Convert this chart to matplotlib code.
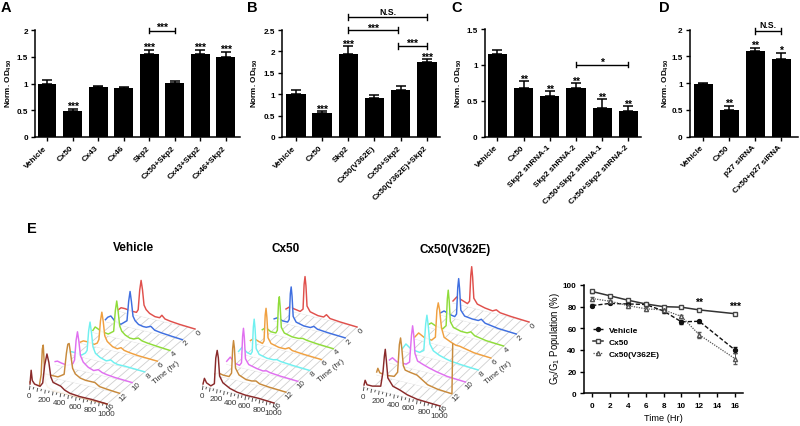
import matplotlib
matplotlib.use('Agg')
import numpy as np
import matplotlib.pyplot as plt
from matplotlib.lines import Line2D
from matplotlib.transforms import ScaledTranslation

plt.rcParams['font.family'] = ['Liberation Sans', 'DejaVu Sans']
plt.rcParams['font.weight'] = 'bold'
plt.rcParams['mathtext.default'] = 'regular'

W, H = 800, 427

# bar panels
a_labels = ['Vehicle', 'Cx50', 'Cx43', 'Cx46', 'Skp2', 'Cx50+Skp2', 'Cx43+Skp2', 'Cx46+Skp2']
a_vals = [1.0, 0.48, 0.93, 0.92, 1.55, 1.01, 1.55, 1.5]
a_errs = [0.06, 0.05, 0.02, 0.015, 0.07, 0.04, 0.08, 0.09]
a_stars = ['', '***', '', '', '***', '', '***', '***']

b_labels = ['Vehicle', 'Cx50', 'Skp2', 'Cx50(V362E)', 'Cx50+Skp2', 'Cx50(V362E)+Skp2']
b_vals = [1.0, 0.55, 1.95, 0.92, 1.1, 1.76]
b_errs = [0.09, 0.05, 0.17, 0.05, 0.1, 0.07]
b_stars = ['', '***', '***', '', '', '***']

c_labels = ['Vehicle', 'Cx50', 'Skp2 shRNA-1', 'Skp2 shRNA-2', 'Cx50+Skp2 shRNA-1', 'Cx50+Skp2 shRNA-2']
c_vals = [1.15, 0.68, 0.56, 0.68, 0.40, 0.35]
c_errs = [0.06, 0.09, 0.07, 0.06, 0.12, 0.07]
c_stars = ['', '**', '**', '**', '**', '**']

d_labels = ['Vehicle', 'Cx50', 'p27 siRNA', 'Cx50+p27 siRNA']
d_vals = [0.99, 0.5, 1.6, 1.45]
d_errs = [0.005, 0.07, 0.06, 0.11]
d_stars = ['', '**', '**', '*']

# time course
hours = [0, 2, 4, 6, 8, 10, 12, 16]
veh_pop = [81, 83, 82.5, 82, 76, 66, 66.5, 40]
veh_err = [1, 1, 1, 1, 2, 2, 1.5, 3]
cx_pop = [94, 90, 86, 82.5, 80, 79.5, 77, 73.5]
cx_err = [1, 1, 1, 1, 1, 1, 1, 1]
mut_pop = [87.5, 85, 81, 78, 77, 71, 54, 32]
mut_err = [1, 1, 1, 1.5, 1.5, 1.5, 3, 5]

# histogram traces, back to front: channel, height
time_labels = ['0', '2', '4', '6', '8', '10', '12', '16']
veh_ch = [
    [0, 40, 90, 180, 240, 262, 282, 300, 318, 338, 365, 410, 480, 540, 570, 610, 680, 800, 1000],
    [0, 30, 70, 120, 200, 280, 302, 320, 338, 358, 385, 430, 490, 530, 590, 640, 720, 850, 1000],
    [0, 30, 60, 110, 200, 270, 292, 310, 328, 348, 375, 420, 480, 530, 590, 640, 720, 850, 1000],
    [0, 40, 100, 180, 220, 242, 262, 280, 298, 318, 350, 420, 480, 530, 570, 640, 750, 1000],
    [0, 40, 100, 180, 230, 252, 272, 290, 308, 328, 360, 420, 500, 560, 600, 650, 750, 1000],
    [0, 30, 80, 160, 230, 252, 272, 290, 308, 328, 365, 430, 500, 560, 610, 670, 780, 1000],
    [0, 40, 100, 200, 280, 310, 328, 345, 368, 390, 425, 490, 560, 620, 680, 740, 850, 1000],
    [0, 40, 80, 120, 145, 160, 172, 182, 195, 230, 300, 1000],
    [0, 15, 30, 60, 130, 165, 190, 220, 245, 270, 300, 350, 400, 450, 520, 650, 800, 1000],
]
veh_h = [
    [1, 4, 4, 3, 3, 6, 26, 36, 27, 12, 8, 5, 3, 3, 6, 3, 2, 1, 0],
    [2, 5, 7, 3, 1, 6, 26, 36, 26, 12, 8, 5, 4, 4, 6, 3, 2, 1, 0],
    [2, 6, 5, 3, 2, 6, 27, 37, 27, 13, 8, 5, 3, 3, 5, 3, 2, 1, 0],
    [1, 3, 3, 2, 4, 8, 27, 36, 27, 13, 8, 4, 3, 5, 3, 2, 1, 0],
    [1, 3, 3, 2, 5, 8, 28, 37, 27, 13, 7, 4, 2, 4, 2, 1, 1, 0],
    [3, 4, 3, 2, 5, 9, 29, 38, 29, 15, 9, 5, 3, 5, 3, 2, 1, 0],
    [1, 2, 2, 2, 6, 28, 37, 38, 26, 14, 9, 6, 5, 5, 5, 2, 1, 0],
    [4, 3, 2, 2, 14, 40, 44, 30, 8, 3, 1, 0],
    [2, 16, 6, 3, 2, 6, 24, 36, 28, 14, 9, 8, 7, 4, 2, 1, 1, 0],
]
cx_ch = [
    [0, 50, 120, 200, 240, 255, 268, 281, 296, 340, 450, 530, 570, 620, 760, 1000],
    [0, 50, 120, 190, 212, 228, 240, 252, 268, 310, 420, 510, 560, 610, 760, 1000],
    [0, 50, 120, 190, 212, 228, 240, 252, 268, 310, 420, 510, 570, 630, 770, 1000],
    [0, 50, 120, 170, 192, 208, 220, 232, 248, 290, 400, 490, 540, 590, 750, 1000],
    [0, 50, 120, 170, 192, 208, 220, 232, 248, 290, 400, 490, 540, 590, 750, 1000],
    [0, 50, 120, 180, 208, 224, 236, 248, 264, 310, 420, 510, 560, 610, 750, 1000],
    [0, 50, 120, 200, 235, 251, 263, 275, 291, 340, 440, 520, 580, 630, 760, 1000],
    [0, 20, 50, 110, 160, 180, 200, 216, 234, 280, 380, 480, 600, 780, 1000],
]
cx_h = [
    [1, 4, 3, 2, 5, 30, 38, 29, 9, 4, 2, 2, 5, 2, 1, 0],
    [2, 4, 2, 2, 5, 31, 38, 29, 9, 4, 2, 2, 4, 2, 1, 0],
    [2, 5, 2, 2, 5, 32, 39, 29, 9, 4, 2, 2, 3, 2, 1, 0],
    [2, 5, 3, 2, 5, 31, 38, 29, 9, 4, 2, 2, 4, 2, 1, 0],
    [2, 7, 3, 2, 5, 30, 38, 29, 9, 4, 2, 2, 3, 2, 1, 0],
    [3, 8, 3, 2, 5, 32, 40, 31, 10, 5, 3, 2, 3, 2, 1, 0],
    [1, 3, 2, 2, 6, 31, 39, 32, 12, 6, 3, 3, 4, 2, 1, 0],
    [2, 8, 4, 2, 5, 31, 39, 32, 14, 8, 4, 2, 1, 1, 0],
]
mut_ch = [
    [0, 50, 120, 190, 218, 234, 246, 258, 274, 320, 420, 520, 570, 620, 760, 1000],
    [0, 50, 120, 190, 214, 230, 242, 254, 270, 320, 420, 500, 540, 590, 760, 1000],
    [0, 50, 110, 200, 244, 260, 272, 284, 300, 340, 440, 520, 570, 620, 770, 1000],
    [0, 50, 120, 220, 270, 290, 308, 326, 350, 385, 470, 540, 590, 650, 780, 1000],
    [0, 50, 120, 230, 285, 310, 326, 342, 365, 410, 490, 580, 640, 780, 1000],
    [0, 40, 100, 220, 265, 290, 305, 320, 336, 370, 440, 520, 620, 760, 1000],
    [0, 15, 40, 120, 230, 275, 298, 314, 330, 350, 375, 440, 530, 610, 670, 800, 990, 1000],
    [0, 15, 40, 110, 220, 250, 268, 280, 294, 314, 380, 470, 570, 700, 1000],
]
mut_h = [
    [2, 7, 5, 3, 6, 32, 41, 31, 10, 5, 3, 2, 4, 2, 1, 0],
    [2, 5, 3, 2, 5, 32, 41, 31, 10, 5, 4, 4, 6, 3, 1, 0],
    [2, 5, 3, 2, 6, 33, 42, 32, 11, 6, 4, 4, 6, 3, 1, 0],
    [2, 7, 4, 3, 7, 34, 42, 35, 18, 9, 6, 4, 4, 3, 1, 0],
    [2, 8, 4, 3, 6, 33, 42, 33, 14, 8, 5, 3, 2, 1, 0],
    [3, 6, 3, 3, 6, 33, 43, 34, 16, 9, 7, 5, 3, 1, 0],
    [3, 7, 3, 2, 3, 8, 36, 43, 33, 16, 12, 11, 10, 6, 3, 1, 0, 50],
    [2, 7, 3, 3, 5, 20, 36, 43, 32, 15, 8, 6, 3, 1, 0],
]

trace_colors = ['#e0504c', '#3f6fe0', '#8fdc3a', '#f0a040', '#70f0f0', '#e070f0', '#c88a3c', '#8a2a2a']

fig = plt.figure(figsize=(W / 100, H / 100), dpi=100)
left_shift = ScaledTranslation(-3 / 100, 0, fig.dpi_scale_trans)


def px_axes(left, right, bottom, top):
    return fig.add_axes([left / W, 1 - bottom / H, (right - left) / W, (bottom - top) / H])


def style(ax):
    ax.spines['top'].set_visible(False)
    ax.spines['right'].set_visible(False)
    ax.spines['left'].set_linewidth(1.1)
    ax.spines['bottom'].set_linewidth(1.1)
    ax.tick_params(width=1.0, length=3, labelsize=5.9, pad=2)


def bar_panel(box, xlim, ymax, yticks, yticklabels, labels, vals, errs, stars, star_gap, ylab_x):
    ax = px_axes(*box)
    xs = np.arange(len(vals))
    ax.bar(xs, vals, width=0.74, color='black')
    ax.errorbar(xs, vals, yerr=[np.zeros(len(errs)), errs], fmt='none', ecolor='black',
                elinewidth=1.1, capsize=3.8, capthick=1.1)
    ax.set_xlim(*xlim)
    ax.set_ylim(0, ymax)
    ax.set_yticks(yticks)
    ax.set_yticklabels(yticklabels)
    ax.set_xticks(xs)
    ax.set_xticklabels(labels, rotation=45, ha='right', rotation_mode='anchor')
    style(ax)
    for lab in ax.get_xticklabels():
        lab.set_transform(lab.get_transform() + left_shift)
    for x, v, e, s in zip(xs, vals, errs, stars):
        if s:
            ax.text(x, v + e + star_gap, s, ha='center', va='center', fontsize=7.5, clip_on=False)
    fig.text(ylab_x / W, 1 - 83 / H, 'Norm. OD$_{450}$', rotation=90, ha='center', va='center', fontsize=5.9)
    return ax


def bracket(ax, x0, x1, y, text, text_y, cap):
    ax.plot([x0, x1], [y, y], color='black', lw=1.0, clip_on=False, solid_capstyle='butt')
    ax.plot([x0, x0], [y - cap, y + cap], color='black', lw=1.0, clip_on=False)
    ax.plot([x1, x1], [y - cap, y + cap], color='black', lw=1.0, clip_on=False)
    ax.text((x0 + x1) / 2, text_y, text, ha='center', va='center', fontsize=7.5 if '*' in text else 6.2,
            clip_on=False)


ax_a = bar_panel((35, 240, 138, 31), (-0.47, 7.55), 2, [0, 0.5, 1, 1.5, 2], ['0', '0.5', '1', '1.5', '2'],
                 a_labels, a_vals, a_errs, a_stars, 0.06, 9)
bracket(ax_a, 4, 5, 1.99, '***', 2.05, 0.055)

ax_b = bar_panel((282, 440, 138, 31), (-0.53, 5.5), 2.5, [0, 0.5, 1, 1.5, 2, 2.5],
                 ['0', '0.5', '1', '1.5', '2', '2.5'], b_labels, b_vals, b_errs, b_stars, 0.05, 255)
bracket(ax_b, 2, 5, 2.8, 'N.S.', 2.94, 0.07)
bracket(ax_b, 2, 3.88, 2.5, '***', 2.55, 0.07)
bracket(ax_b, 3.9, 5, 2.13, '***', 2.19, 0.07)

ax_c = bar_panel((484.5, 641, 137.5, 30), (-0.49, 5.48), 1.5, [0, 0.5, 1, 1.5], ['0', '0.5', '1', '1.5'],
                 c_labels, c_vals, c_errs, c_stars, 0.04, 459)
bracket(ax_c, 3, 5, 1.0, '*', 1.04, 0.035)

ax_d = bar_panel((689.5, 798, 137.5, 30.7), (-0.53, 3.65), 2, [0, 0.5, 1, 1.5, 2], ['0', '0.5', '1', '1.5', '2'],
                 d_labels, d_vals, d_errs, d_stars, 0.065, 665.5)
bracket(ax_d, 2, 3, 1.97, 'N.S.', 2.09, 0.055)

for s, x, y in [('A', 6, 8), ('B', 252, 8), ('C', 457, 8), ('D', 664, 8), ('E', 32, 229)]:
    fig.text(x / W, 1 - y / H, s, ha='center', va='center', fontsize=10.5)

# waterfall panels share one overlay in figure pixels
ov = fig.add_axes([0, 0, 1, 1])
ov.set_xlim(0, W)
ov.set_ylim(H, 0)
ov.axis('off')
ov.patch.set_alpha(0)


def waterfall(origin, xvec, tvec, channels, heights, rows, colors, title, title_pos, tlab_pos):
    ox, oy = origin

    def proj(c, k):
        c = np.asarray(c, dtype=float) / 1000
        d = 7 - k
        return ox + xvec[0] * c + tvec[0] * d / 7, oy + xvec[1] * c + tvec[1] * d / 7

    for c in range(100, 1001, 100):
        x0, y0 = proj(c, 0)
        x1, y1 = proj(c, 7)
        ov.plot([x0, x1], [y0, y1], color='#cfcfcf', lw=0.6, zorder=1)
    for k in range(8):
        x0, y0 = proj(0, k)
        x1, y1 = proj(1000, k)
        ov.plot([x0, x1], [y0, y1], color='#d8d8d8', lw=0.4, zorder=1)
    for c in range(0, 1001, 50):
        x0, y0 = proj(c, 7)
        ov.plot([x0, x0 - 0.6], [y0, y0 + (3.5 if c % 100 == 0 else 2)], color='#555555', lw=0.7, zorder=1)
    for c in range(0, 1001, 200):
        x0, y0 = proj(c, 7)
        ov.text(x0 - 1, y0 + 9.5, str(c), ha='center', va='center', fontsize=5.8, color='#333333',
                fontweight='normal')
    for k, lab in enumerate(time_labels):
        x0, y0 = proj(1000, k)
        ov.text(x0 + 4, y0 + 3, lab, ha='center', va='center', fontsize=5.8, rotation=45, color='#333333',
                fontweight='normal')
    ov.text(tlab_pos[0], tlab_pos[1], 'Time (hr)', ha='center', va='center', fontsize=5.8, rotation=40,
            color='#333333', fontweight='normal')

    z = 2
    for ch, h, k, col in zip(channels, heights, rows, colors):
        x, y = proj(ch, k)
        y = y - np.asarray(h, dtype=float)
        bx, by = proj(ch, k)
        ov.fill(np.r_[x, bx[::-1]], np.r_[y, by[::-1]], color='white', alpha=0.9, lw=0, zorder=z)
        ov.plot(x, y, color=col, lw=1.05, zorder=z + 1, solid_joinstyle='round')
        z += 2
    ov.text(title_pos[0], title_pos[1], title, ha='center', va='center', fontsize=8.5)


waterfall((30, 387), (77, 18), (88, -75), veh_ch, veh_h, [0, 1, 2, 3, 4, 5, 6, 7, 7],
          trace_colors[:7] + ['#c88a3c', '#8a2a2a'], 'Vehicle', (133, 248), (166, 373))
waterfall((203, 387), (71, 17), (83, -76), cx_ch, cx_h, list(range(8)), trace_colors,
          'Cx50', (285.7, 249), (331, 371))
waterfall((364, 388), (76, 19), (89, -84), mut_ch, mut_h, list(range(8)), trace_colors,
          'Cx50(V362E)', (455, 250), (498, 373))

# time course panel
ax_e = px_axes(583.5, 743, 394.3, 286)
ax_e.errorbar(hours, veh_pop, yerr=veh_err, color='#111111', ls=(0, (3, 1.5)), lw=1.0, marker='o', ms=2.8,
              mfc='#111111', mec='#111111', capsize=1.5, elinewidth=0.7)
ax_e.errorbar(hours, cx_pop, yerr=cx_err, color='#333333', ls='-', lw=1.1, marker='s', ms=3,
              mfc='white', mec='#444444', capsize=1.5, elinewidth=0.7)
ax_e.errorbar(hours, mut_pop, yerr=mut_err, color='#555555', ls=(0, (1, 1)), lw=0.9, marker='^', ms=3,
              mfc='white', mec='#555555', capsize=1.5, elinewidth=0.7)
ax_e.set_xlim(-0.97, 16.9)
ax_e.set_ylim(0, 100)
ax_e.set_xticks(range(0, 17, 2))
ax_e.set_yticks(range(0, 101, 20))
style(ax_e)
ax_e.tick_params(axis='x', pad=3.5)
ax_e.set_xlabel('Time (Hr)', fontsize=6.7, labelpad=3)
ax_e.set_ylabel('G$_0$/G$_1$ Population (%)', fontsize=6.9)
ax_e.yaxis.set_label_coords((562.5 - 583.5) / (743 - 583.5), (394.3 - 338.7) / (394.3 - 286))
ax_e.text(12, 84, '**', ha='center', va='center', fontsize=7.5)
ax_e.text(16, 81, '***', ha='center', va='center', fontsize=7.5)
handles = [
    Line2D([], [], color='#111111', ls=(0, (3, 1.5)), lw=1.0, marker='o', ms=2.8, mfc='#111111', mec='#111111'),
    Line2D([], [], color='#333333', ls='-', lw=1.1, marker='s', ms=3, mfc='white', mec='#444444'),
    Line2D([], [], color='#555555', ls=(0, (1, 1)), lw=0.9, marker='^', ms=3, mfc='white', mec='#555555'),
]
ax_e.legend(handles, ['Vehicle', 'Cx50', 'Cx50(V362E)'], loc='upper left', bbox_to_anchor=(0.06, 0.62),
            frameon=False, fontsize=6, handlelength=1.2, handletextpad=0.7, labelspacing=0.5,
            borderpad=0, borderaxespad=0)

fig.savefig('out.png', dpi=100)
